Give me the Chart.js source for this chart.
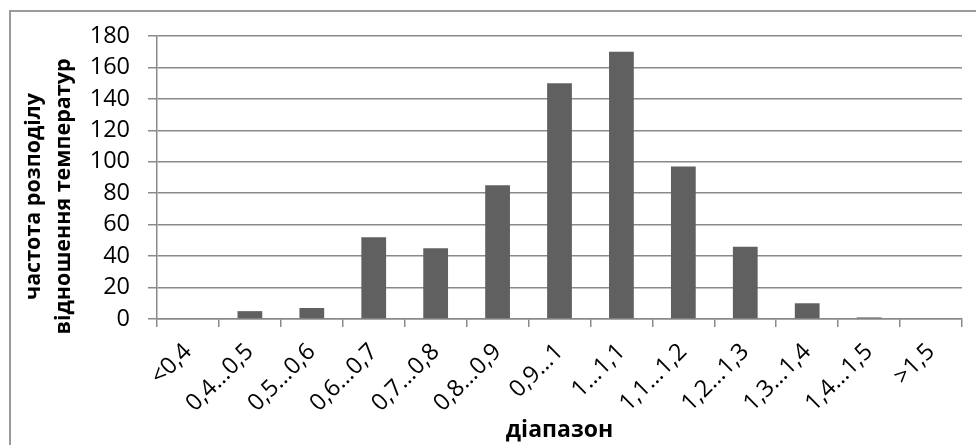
<!DOCTYPE html>
<html>
<head>
<meta charset="utf-8">
<script src="https://cdn.jsdelivr.net/npm/chart.js@4"></script>
<style>
  html, body { margin: 0; padding: 0; background: #fff; overflow: hidden; }
  #frame { position: absolute; left: 9px; top: 10px; width: 1100px; height: 600px;
           border: 2px solid #9a9a9a; box-sizing: border-box; }
  #wrap { position: absolute; left: 0; top: 0; width: 976px; height: 445px; }
</style>
</head>
<body>
<div id="frame"></div>
<div id="wrap"><canvas id="c" width="976" height="445"></canvas></div>
<script>
// Temperature-ratio ranges and how often each occurs
const categories = ['<0,4', '0,4…0,5', '0,5…0,6', '0,6…0,7', '0,7…0,8', '0,8…0,9',
                    '0,9…1', '1…1,1', '1,1…1,2', '1,2…1,3', '1,3…1,4', '1,4…1,5', '>1,5'];
const frequencies = [0, 5, 7, 52, 45, 85, 150, 170, 97, 46, 10, 1, 0];
const yTickValues = [0, 20, 40, 60, 80, 100, 120, 140, 160, 180];
const yTitleLines = ['частота розподілу', 'відношення температур'];
const xTitle = 'діапазон';

const GRID = '#8a8a8a';
const FONT = '"Open Sans", "Liberation Sans", sans-serif';

// Two-line rotated title for the value axis
const yTitlePlugin = {
  id: 'yTitle',
  afterDraw(chart) {
    const ctx = chart.ctx;
    const area = chart.chartArea;
    ctx.save();
    ctx.fillStyle = '#000';
    ctx.font = 'bold 21.5px ' + FONT;
    ctx.textAlign = 'center';
    ctx.textBaseline = 'middle';
    const cy = area.top + (area.bottom - area.top) / 2 + 19;
    const xs = [34, 64];
    yTitleLines.forEach((line, i) => {
      ctx.save();
      ctx.translate(xs[i], cy);
      ctx.rotate(-Math.PI / 2);
      ctx.fillText(line, 0, 0);
      ctx.restore();
    });
    ctx.restore();
  }
};

new Chart(document.getElementById('c'), {
  type: 'bar',
  data: {
    labels: categories,
    datasets: [{
      data: frequencies,
      backgroundColor: '#606060',
      borderWidth: 0,
      categoryPercentage: 1,
      barPercentage: 0.4
    }]
  },
  options: {
    responsive: false,
    devicePixelRatio: 1,
    animation: false,
    layout: { padding: { top: 36, right: 14, left: 0, bottom: 0 } },
    plugins: { legend: { display: false }, tooltip: { enabled: false } },
    scales: {
      x: {
        grid: { drawOnChartArea: false, offset: true, tickLength: 8, color: GRID, lineWidth: 1.5 },
        border: { color: GRID, width: 1.5 },
        ticks: { maxRotation: 45, minRotation: 45, autoSkip: false, padding: 11,
                 color: '#000', font: { family: FONT, size: 23.5 } },
        title: { display: true, text: xTitle, color: '#000',
                 font: { family: FONT, size: 23, weight: 'bold' }, padding: { top: 0, bottom: 1 } },
        afterFit(s) { s.height = 126; s.paddingLeft = 0; s.paddingRight = 0; }
      },
      y: {
        min: 0, max: 180,
        afterBuildTicks(s) { s.ticks = yTickValues.map(v => ({ value: v })); },
        grid: { color: GRID, lineWidth: 1.5, tickLength: 9 },
        border: { color: GRID, width: 1.5 },
        ticks: { padding: 18, color: '#000', font: { family: FONT, size: 23.5 } },
        afterFit(s) { s.width = 157; s.paddingTop = 0; s.paddingBottom = 0; }
      }
    }
  },
  plugins: [yTitlePlugin]
});
</script>
</body>
</html>
